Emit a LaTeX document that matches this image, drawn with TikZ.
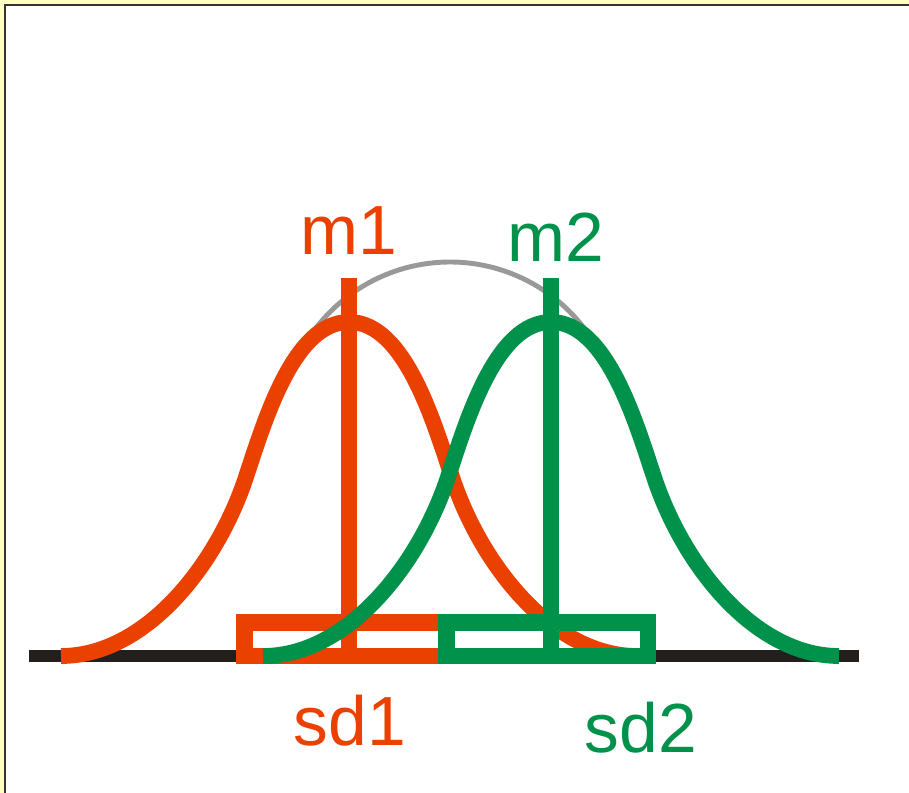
\documentclass[tikz,border=0pt]{standalone}
\usepackage{fontspec}
\setmainfont{Liberation Sans}

\definecolor{redorange}{RGB}{234,64,0}
\definecolor{darkgreen}{RGB}{0,145,75}
\definecolor{axisblack}{RGB}{35,31,28}
\definecolor{paleyellow}{RGB}{255,255,196}

% bell curve around mean #1
\newcommand{\bell}[2]{%
    \draw[bellline, #2] (#1-288,656) .. controls (#1-205,656) and (#1-134,568) .. (#1-104,480)
        .. controls (#1-85,423) and (#1-56,322) .. (#1,322)
        .. controls (#1+56,322) and (#1+85,423) .. (#1+104,480)
        .. controls (#1+134,568) and (#1+205,656) .. (#1+288,656);
}

\begin{document}
\begin{tikzpicture}[x=0.02cm, y=-0.02cm,
    bellline/.style={line width=9pt},
    bar/.style={line width=9.6pt},
    sdbox/.style={line width=9.6pt},
    lbl/.style={anchor=base, inner sep=0pt, font=\fontsize{39.6}{46}\selectfont}]
    \useasboundingbox (0,0) rectangle (909,793);
    \fill[paleyellow] (0,0) rectangle (909,793);
    \fill[white] (5,5) rectangle (909,793);
    \draw[line width=1.1pt, black!80] (5,793) -- (5,5) -- (909,5);
    % axis
    \draw[line width=6.4pt, axisblack] (29,656) -- (859,656);
    % envelope
    \draw[line width=2.8pt, black!40] plot[domain=31:149, samples=60]
        ({450+169*cos(\x)}, {431-169*sin(\x)});
    % first group
    \bell{349}{redorange}
    \draw[bar, redorange] (349,278) -- (349,656);
    \draw[sdbox, redorange] (244.5,622.5) rectangle (446.5,656);
    % second group
    \bell{551}{darkgreen}
    \draw[bar, darkgreen] (551,278) -- (551,656);
    \draw[sdbox, darkgreen] (446.5,622.5) rectangle (648,656);
    % labels
    \node[lbl, text=redorange] (m1) at (349,255) {m1};
    \node[lbl, text=darkgreen] (m2) at (556,262) {m2};
    \node[lbl, text=redorange] (sd1) at (350,745) {sd1};
    \node[lbl, text=darkgreen] (sd2) at (641,752) {sd2};
\end{tikzpicture}
\end{document}
